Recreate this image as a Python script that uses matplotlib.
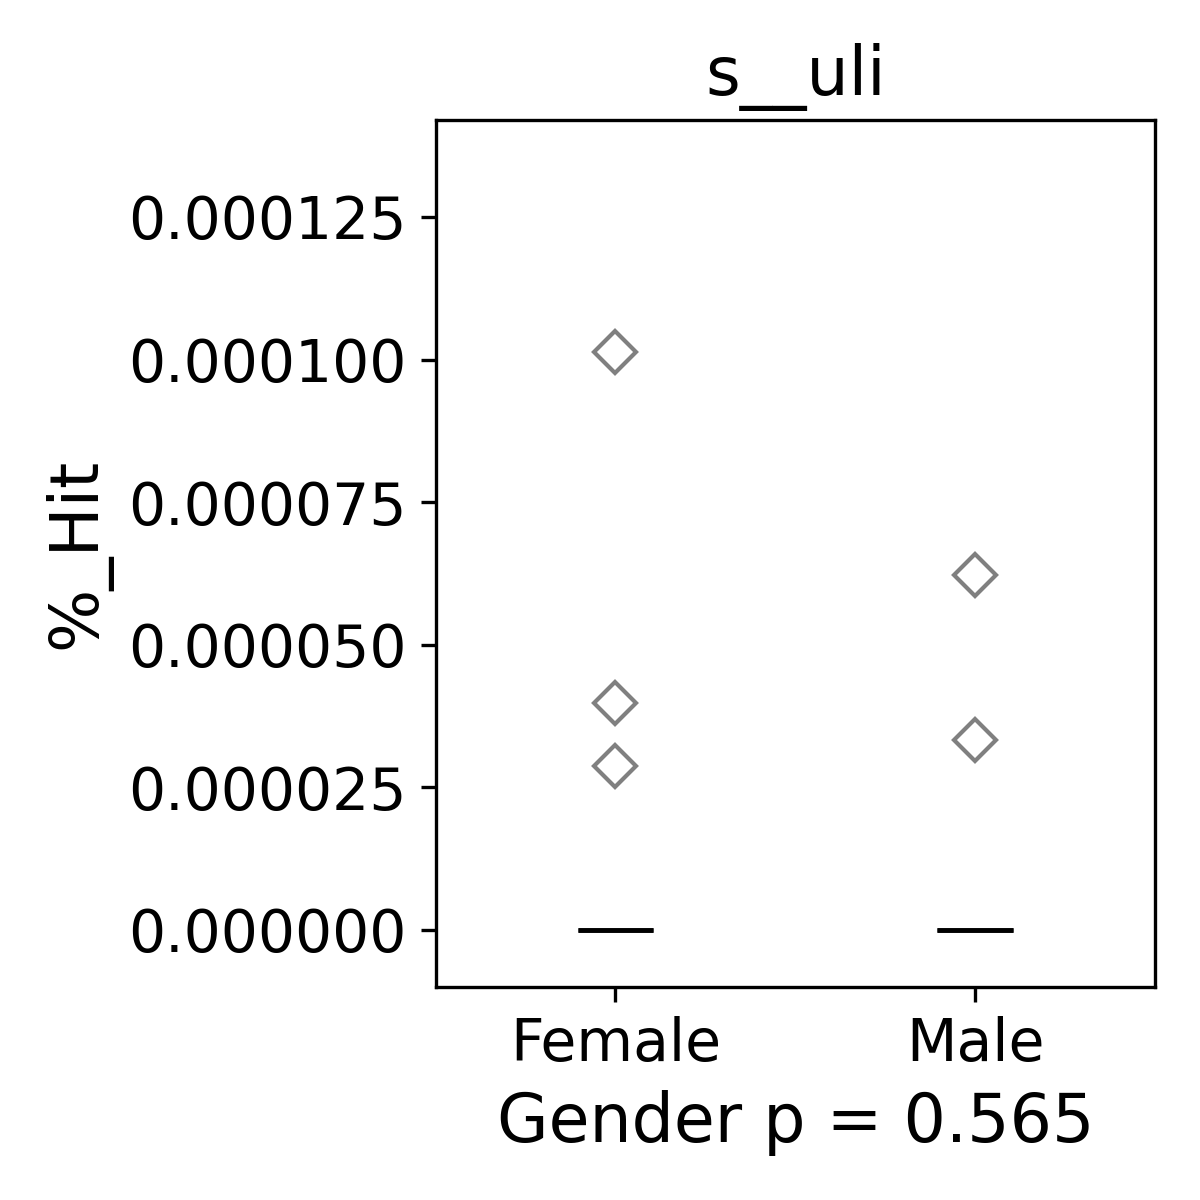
import matplotlib
matplotlib.use("Agg")
import matplotlib.pyplot as plt
import numpy as np

# --- data ---
groups = ["Female", "Male"]
zeros_per_group = [14, 14]
female_nonzero = [0.0001013, 0.0000398, 0.0000288]
male_nonzero = [0.0000622, 0.0000333]
p_value = 0.565
title = "s__uli"

data = [
    [0.0] * zeros_per_group[0] + female_nonzero,
    [0.0] * zeros_per_group[1] + male_nonzero,
]

fig, ax = plt.subplots(figsize=(4, 4), dpi=300)

ax.boxplot(
    data,
    positions=range(len(groups)),
    widths=0.21,
    patch_artist=True,
    boxprops=dict(facecolor="none", edgecolor="black", linewidth=1.1),
    medianprops=dict(color="black", linewidth=1.1),
    whiskerprops=dict(color="black", linewidth=1.1),
    capprops=dict(linewidth=0),
    flierprops=dict(marker="D", markersize=7, markerfacecolor="none",
                    markeredgecolor="gray", markeredgewidth=1.0),
)

ax.set_xlim(-0.5, 1.5)
ax.set_ylim(-0.00001, 0.000142)
ax.set_yticks([0, 0.000025, 0.00005, 0.000075, 0.0001, 0.000125])
ax.set_yticklabels(["%.6f" % v for v in ax.get_yticks()])
ax.set_xticks(range(len(groups)))
ax.set_xticklabels(groups)
ax.tick_params(labelsize=14)

ax.set_title(title, fontsize=16)
ax.set_ylabel("%_Hit", fontsize=16)
ax.set_xlabel("Gender p = %.3f" % p_value, fontsize=16)

fig.subplots_adjust(left=0.363, right=0.9625, bottom=0.1775, top=0.9)
fig.savefig("out.png", dpi=300)
